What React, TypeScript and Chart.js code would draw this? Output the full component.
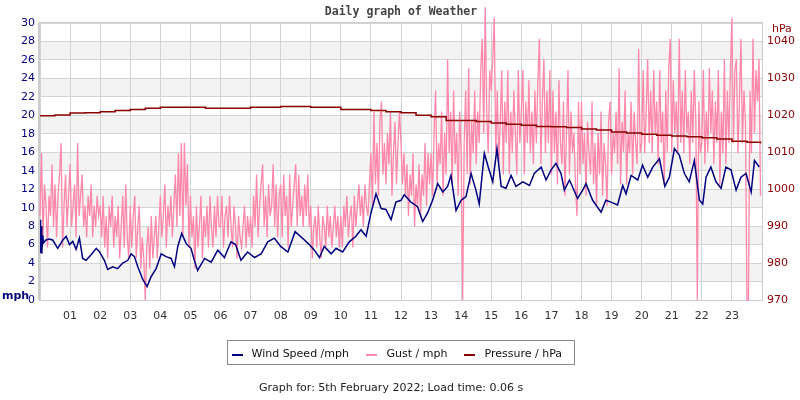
import React, { useEffect, useRef } from "react";
import { Chart, registerables } from "chart.js";

Chart.register(...registerables);

// ---------- DATA ----------
const hourLabels = ["01","02","03","04","05","06","07","08","09","10","11","12","13","14","15","16","17","18","19","20","21","22","23"];

const windHours = [
  0.0, 0.02, 0.04, 0.06, 0.09, 0.12, 0.2, 0.3, 0.42, 0.59, 0.76, 0.87, 0.98,
  1.09, 1.2, 1.31, 1.42, 1.53, 1.7, 1.87, 1.98,
  2.14, 2.25, 2.42, 2.58, 2.75, 2.92,
  3.03, 3.14, 3.25, 3.42, 3.56, 3.69, 3.86,
  4.03, 4.19, 4.36, 4.47, 4.58, 4.71, 4.86,
  5.02, 5.13, 5.24, 5.47, 5.69, 5.91,
  6.13, 6.35, 6.5, 6.68, 6.9,
  7.13, 7.35, 7.57, 7.79,
  8.0, 8.24, 8.48, 8.79, 8.95,
  9.12, 9.29, 9.45, 9.68, 9.84,
  10.06, 10.28, 10.5, 10.67, 10.84,
  11.0, 11.17, 11.34, 11.5, 11.67, 11.83,
  12.0, 12.11, 12.33, 12.55, 12.72, 12.88,
  13.05, 13.22, 13.39, 13.55, 13.66, 13.83,
  14.0, 14.16, 14.33, 14.49, 14.6, 14.77, 14.9,
  15.05, 15.19, 15.33, 15.49, 15.66, 15.82,
  16.05, 16.27, 16.43, 16.66, 16.82, 16.99,
  17.15, 17.32, 17.43, 17.6, 17.87,
  18.04, 18.15, 18.37, 18.65, 18.81, 18.98,
  19.2, 19.37, 19.48, 19.65, 19.87,
  20.03, 20.2, 20.37, 20.59, 20.77, 20.92,
  21.09, 21.25, 21.42, 21.58, 21.75, 21.92,
  22.03, 22.14, 22.3, 22.47, 22.64, 22.8, 22.97,
  23.14, 23.3, 23.47, 23.64, 23.75, 23.91
];
const windSpeed = [
  8.7, 5.1, 8.0, 5.0, 7.0, 6.2, 6.5, 6.6, 6.5, 5.6, 6.5, 6.9, 6.0,
  6.35, 5.5, 6.7, 4.5, 4.3, 4.9, 5.6, 5.2,
  4.3, 3.3, 3.6, 3.4, 4.0, 4.3,
  5.0, 4.7, 3.6, 2.2, 1.45, 2.5, 3.4,
  5.0, 4.7, 4.5, 3.6, 5.8, 7.2, 6.1,
  5.6, 4.3, 3.2, 4.5, 4.1, 5.4,
  4.6, 6.3, 6.0, 4.3, 5.2,
  4.6, 5.0, 6.3, 6.7,
  5.8, 5.2, 7.4, 6.5, 6.0,
  5.4, 4.6, 5.8, 5.0, 5.6,
  5.2, 6.3, 6.9, 7.6, 6.9,
  9.4, 11.5, 9.9, 9.8, 8.7, 10.6,
  10.8, 11.4, 10.6, 10.1, 8.5, 9.4,
  10.8, 12.6, 11.7, 12.3, 13.5, 9.7,
  10.8, 11.2, 13.7, 11.9, 10.4, 15.9, 14.4,
  12.8, 16.4, 12.3, 12.1, 13.5, 12.3,
  12.8, 12.4, 13.7, 14.4, 13.0, 14.1,
  14.8, 13.7, 11.9, 13.0, 11.0,
  11.9, 12.6, 10.8, 9.5, 10.8, 10.6,
  10.3, 12.4, 11.5, 13.5, 13.0,
  14.6, 13.3, 14.4, 15.3, 12.3, 13.3,
  16.4, 15.7, 13.7, 12.8, 15.1, 10.8,
  10.4, 13.3, 14.4, 12.8, 12.1, 14.4, 14.1,
  11.9, 13.3, 13.7, 11.7, 15.1, 14.4
];

// gust readings, one every 3 minutes (20 per hour), hours 00..23
const gust = [
  9.1, 15.9, 6.8, 12.5, 10.2, 5.7, 11.3, 9.1, 14.7, 7.9, 12.5, 6.8, 11.3, 13.6, 17.0, 5.7, 10.2, 13.6, 7.9, 11.3,
  14.7, 7.9, 10.2, 12.5, 6.8, 17.0, 9.1, 11.3, 13.6, 7.9, 10.2, 6.8, 11.3, 9.1, 12.5, 6.8, 10.2, 7.9, 11.3, 9.1,
  10.2, 6.8, 11.3, 5.7, 9.1, 4.5, 10.2, 7.9, 11.3, 5.7, 9.1, 6.8, 10.2, 4.5, 8.0, 11.3, 5.7, 12.5, 6.8, 4.5,
  10.2, 5.7, 9.1, 11.3, 4.5, 7.9, 10.2, 3.4, 6.8, 4.5, 0, 5.7, 7.9, 3.4, 9.1, 4.5, 6.8, 9.1, 4.5, 7.9,
  11.3, 6.8, 9.1, 12.5, 5.7, 10.2, 8.0, 11.3, 6.8, 10.2, 13.6, 7.9, 15.9, 9.1, 17.0, 6.8, 17.0, 10.2, 14.7, 5.7,
  11.3, 6.8, 9.1, 3.4, 10.2, 5.7, 8.0, 11.3, 4.5, 9.1, 6.8, 10.2, 5.7, 11.3, 7.9, 5.7, 10.2, 6.8, 11.3, 8.0,
  7.9, 11.3, 5.7, 9.1, 10.2, 6.8, 11.3, 8.0, 5.7, 10.2, 7.9, 4.5, 9.1, 6.8, 5.7, 8.0, 10.2, 5.7, 9.1, 6.8,
  9.1, 5.7, 11.3, 7.9, 13.6, 6.8, 10.2, 12.5, 14.7, 7.9, 11.3, 6.8, 12.5, 9.1, 10.2, 14.7, 7.9, 12.5, 6.8, 11.3,
  12.5, 6.8, 13.6, 9.1, 11.3, 5.7, 13.6, 7.9, 10.2, 12.5, 14.7, 8.0, 13.6, 9.1, 11.3, 7.9, 12.5, 9.1, 13.6, 7.9,
  10.2, 4.5, 8.0, 9.1, 5.7, 10.2, 6.8, 4.5, 9.1, 7.9, 5.7, 10.2, 6.8, 9.1, 5.7, 8.0, 10.2, 6.8, 9.1, 5.7,
  9.1, 5.7, 10.2, 7.9, 11.3, 6.8, 9.1, 10.2, 5.7, 11.3, 7.9, 10.2, 12.5, 9.1, 11.3, 7.9, 12.5, 10.2, 9.1, 12.5,
  15.9, 10.2, 20.4, 12.5, 17.0, 11.3, 19.3, 21.5, 13.6, 17.0, 12.5, 18.1, 14.7, 20.4, 11.3, 15.9, 19.3, 12.5, 17.0, 20.4,
  17.0, 12.5, 15.9, 11.3, 14.7, 9.1, 13.6, 11.3, 15.9, 7.9, 12.5, 10.2, 14.7, 9.1, 13.6, 11.3, 17.0, 10.2, 15.9, 12.5,
  15.9, 11.3, 18.1, 22.7, 12.5, 17.0, 14.7, 20.4, 11.3, 18.1, 13.6, 26.1, 15.9, 20.4, 12.5, 22.7, 14.7, 18.1, 11.3, 20.4,
  15.9, 0, 17.0, 22.7, 13.6, 25.1, 12.5, 19.3, 15.9, 22.7, 14.7, 20.4, 17.0, 24.9, 28.3, 18.1, 31.7, 20.4, 15.9, 24.9,
  22.7, 26.1, 30.6, 15.9, 22.7, 14.7, 19.3, 24.9, 13.6, 21.5, 17.0, 24.9, 13.6, 20.4, 15.9, 22.7, 18.1, 13.6, 24.9, 17.0,
  20.4, 24.9, 13.6, 21.5, 17.0, 23.8, 15.9, 20.4, 14.7, 22.7, 17.0, 23.8, 28.3, 14.7, 21.5, 26.1, 15.9, 22.7, 17.0, 24.9,
  13.6, 22.7, 15.9, 20.4, 12.5, 23.8, 17.0, 14.7, 21.5, 11.3, 18.1, 24.9, 13.6, 20.4, 15.9, 18.1, 12.5, 9.1, 21.5, 13.6,
  21.5, 14.7, 18.1, 11.3, 19.3, 15.9, 13.6, 21.5, 12.5, 17.0, 10.2, 18.1, 13.6, 20.4, 11.3, 17.0, 14.7, 10.2, 19.3, 21.5,
  13.6, 18.1, 15.9, 20.4, 14.7, 25.1, 12.5, 19.3, 16.0, 22.7, 12.5, 18.1, 15.9, 21.5, 13.6, 20.4, 17.0, 14.7, 27.2, 15.9,
  17.0, 24.9, 15.9, 20.4, 26.1, 17.0, 22.7, 15.9, 24.9, 18.1, 21.5, 14.7, 24.9, 17.0, 20.4, 12.5, 22.7, 16.0, 24.9, 28.3,
  16.0, 23.8, 18.1, 21.5, 15.9, 28.3, 17.0, 22.7, 15.9, 24.9, 18.1, 20.4, 14.7, 22.7, 17.0, 24.9, 19.3, 0, 21.5, 15.9,
  17.0, 24.9, 14.7, 20.4, 16.0, 25.1, 18.1, 22.7, 14.7, 21.5, 17.0, 24.9, 12.5, 20.4, 15.9, 26.1, 14.7, 22.7, 17.0, 25.1,
  30.6, 17.0, 24.9, 26.1, 15.9, 21.5, 28.3, 17.0, 22.7, 19.3, 0, 0, 22.7, 15.9, 28.3, 18.1, 24.9, 21.5, 26.1, 11.3
];

const pressureHours = [
  0, 0.5, 1, 1.5, 2, 2.5, 3, 3.5, 4, 4.5, 5, 5.5, 6, 6.5, 7, 7.5, 8, 8.5, 9, 9.5,
  10, 10.5, 11, 11.5, 12, 12.5, 13, 13.5, 14, 14.5, 15, 15.5, 16, 16.5, 17, 17.5,
  18, 18.5, 19, 19.5, 20, 20.5, 21, 21.5, 22, 22.5, 23, 23.5, 23.95
];
const pressure = [
  1019.9, 1020.1, 1020.6, 1020.7, 1021.0, 1021.3, 1021.6, 1021.9, 1022.2, 1022.2,
  1022.2, 1021.9, 1021.9, 1021.9, 1022.2, 1022.2, 1022.4, 1022.4, 1022.2, 1022.2,
  1021.6, 1021.6, 1021.3, 1021.0, 1020.7, 1020.0, 1019.6, 1018.6, 1018.6, 1018.3,
  1017.9, 1017.6, 1017.3, 1017.0, 1016.9, 1016.7, 1016.3, 1016.0, 1015.5, 1015.2,
  1014.9, 1014.6, 1014.4, 1014.2, 1013.9, 1013.6, 1013.0, 1012.7, 1012.4
];

const titleText = "Daily graph of Weather";
const footerText = "Graph for: 5th February 2022; Load time: 0.06 s";
const seriesLabels = ["Wind Speed /mph", "Gust / mph", "Pressure / hPa"];
const seriesColors = ["#000080", "#ff88aa", "#8b0000"];

const FONT = '"DejaVu Sans", sans-serif';

const decorPlugin = {
  id: "decor",
  beforeDraw(chart: any) {
    const { ctx, chartArea: a, scales } = chart;
    const y = scales.y;
    ctx.save();
    ctx.fillStyle = "#ffffff";
    ctx.fillRect(0, 0, chart.width, chart.height);
    ctx.fillStyle = "#f3f3f3";
    for (let v = 2; v < 30; v += 4) {
      const top = y.getPixelForValue(v + 2);
      const bot = y.getPixelForValue(v);
      ctx.fillRect(a.left, top, a.right - a.left, bot - top);
    }
    ctx.restore();
  },
  beforeDatasetsDraw(chart: any) {
    const { ctx, chartArea: a } = chart;
    ctx.save();
    ctx.strokeStyle = "#cccccc";
    ctx.lineWidth = 1;
    ctx.strokeRect(Math.round(a.left) - 0.5, Math.round(a.top) - 0.5, a.right - a.left + 1, a.bottom - a.top + 1);
    ctx.fillStyle = "#cccccc";
    ctx.fillRect(Math.round(a.left) - 2, a.top, 2, a.bottom - a.top);
    ctx.restore();
  },
  afterDraw(chart: any) {
    const { ctx } = chart;
    ctx.save();
    ctx.textBaseline = "middle";
    ctx.font = 'bold 11.5px "DejaVu Sans Mono", monospace';
    ctx.fillStyle = "#444444";
    ctx.textAlign = "center";
    ctx.fillText(titleText, 401, 12.5);
    ctx.textAlign = "left";
    ctx.font = `bold 11px ${FONT}`;
    ctx.fillStyle = "#000080";
    ctx.fillText("mph", 2, 296);
    ctx.font = `11px ${FONT}`;
    ctx.fillStyle = "#8b0000";
    ctx.fillText("hPa", 772, 29);
    ctx.strokeStyle = "#888888";
    ctx.lineWidth = 1;
    ctx.fillStyle = "#ffffff";
    ctx.fillRect(227.5, 340.5, 347, 24);
    ctx.strokeRect(227.5, 340.5, 347, 24);
    const markerX = [232, 366, 464];
    const textX = [251.5, 386.5, 484.5];
    ctx.font = `11px ${FONT}`;
    for (let i = 0; i < seriesLabels.length; i++) {
      ctx.fillStyle = seriesColors[i];
      ctx.fillRect(markerX[i], 354, 11, 2);
      ctx.fillStyle = "#111111";
      ctx.fillText(seriesLabels[i], textX[i], 354.5);
    }
    ctx.fillStyle = "#222222";
    ctx.fillText(footerText, 259, 388.5);
    ctx.restore();
  },
};

export default function App() {
  const ref = useRef<HTMLCanvasElement | null>(null);
  useEffect(() => {
    if (!ref.current) return;
    const windData = windHours.map((h, i) => ({ x: h, y: windSpeed[i] }));
    const gustData = gust.map((v, i) => ({ x: i / 20, y: v }));
    const pressData = pressureHours.map((h, i) => ({ x: h, y: pressure[i] }));
    const chart = new Chart(ref.current, {
      type: "line",
      data: {
        datasets: [
          {
            label: seriesLabels[0], data: windData, borderColor: seriesColors[0],
            borderWidth: 1.5, pointRadius: 0, tension: 0, yAxisID: "y", order: 0,
          },
          {
            label: seriesLabels[1], data: gustData, borderColor: seriesColors[1],
            borderWidth: 1.3, pointRadius: 0, tension: 0, yAxisID: "y", order: 2, clip: false,
          },
          {
            label: seriesLabels[2], data: pressData, borderColor: seriesColors[2],
            borderWidth: 1.5, pointRadius: 0, tension: 0, stepped: true, yAxisID: "y1", order: 1,
          },
        ],
      } as any,
      options: {
        animation: false,
        responsive: false,
        devicePixelRatio: 1,
        layout: { padding: { top: 23, left: 0, right: 0, bottom: 0 } },
        plugins: {
          legend: { display: false },
          title: { display: false },
          tooltip: { enabled: false },
        },
        scales: {
          x: {
            type: "linear",
            min: 0,
            max: 24,
            afterFit: (s: any) => { s.height = 100; },
            ticks: {
              stepSize: 1,
              autoSkip: false,
              maxRotation: 0,
              padding: 10,
              color: "#333333",
              font: { family: FONT, size: 11 },
              callback: (v: any) => (v >= 1 && v <= 23 ? hourLabels[v - 1] : ""),
            },
            grid: { color: "#d4d4d4", drawTicks: false, lineWidth: 1 },
            border: { display: false },
          },
          y: {
            position: "left",
            min: 0,
            max: 30,
            afterFit: (s: any) => { s.width = 40; },
            ticks: { stepSize: 2, padding: 5, color: "#000080", font: { family: FONT, size: 11 }, callback: (v: any) => String(v) },
            grid: { color: "#d4d4d4", drawTicks: false, lineWidth: 1 },
            border: { display: false },
          },
          y1: {
            position: "right",
            min: 970,
            max: 1045,
            afterFit: (s: any) => { s.width = 38; },
            afterBuildTicks: (s: any) => { s.ticks = s.ticks.filter((t: any) => t.value % 10 === 0); },
            ticks: { stepSize: 10, padding: 5, color: "#8b0000", font: { family: FONT, size: 11 }, callback: (v: any) => String(v) },
            grid: { display: false, drawTicks: false },
            border: { display: false },
          },
        },
      } as any,
      plugins: [decorPlugin],
    });
    return () => chart.destroy();
  }, []);
  return (
    <div style={{ position: "absolute", left: 0, top: 0, width: 800, height: 400 }}>
      <canvas ref={ref} width={800} height={400} style={{ display: "block" }} />
    </div>
  );
}
